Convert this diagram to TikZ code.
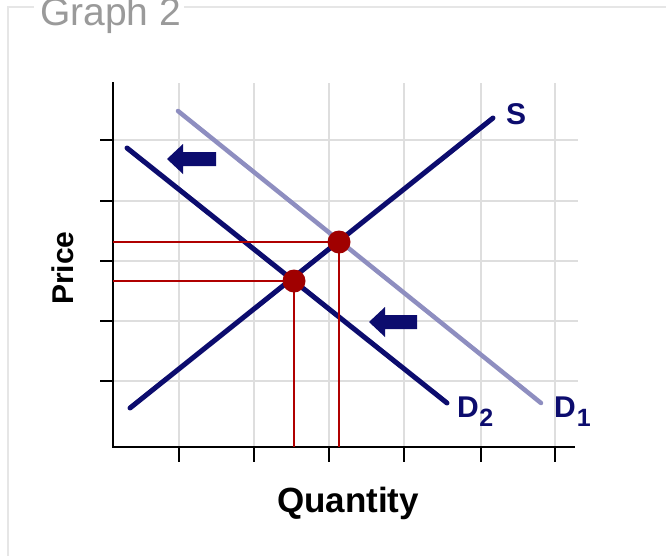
\documentclass[tikz,border=0pt]{standalone}
\usepackage{fontspec}
\setmainfont{Liberation Sans}
\definecolor{navy}{HTML}{0C0C6E}
\definecolor{lightd}{HTML}{8E8EC0}
\definecolor{eqred}{HTML}{B00000}
\definecolor{dotred}{HTML}{A00000}
\definecolor{gridc}{HTML}{DEDEDE}
\definecolor{framec}{HTML}{E6E6E6}
\definecolor{titlec}{HTML}{9A9A9A}
\tikzset{
  gridline/.style={gridc, line width=1.3pt},
  axisline/.style={black, line width=2.4pt},
  tickline/.style={black, line width=2pt},
  curve/.style={navy, line width=5pt, line cap=round},
  curvelight/.style={lightd, line width=4.5pt, line cap=round},
  guide/.style={eqred, line width=1.8pt},
  eqdot/.style={circle, fill=dotred, inner sep=0pt, minimum size=23pt},
  shiftarrow/.style={fill=navy},
  lbl/.style={inner sep=0pt, font=\fontsize{30}{30}\selectfont\bfseries, text=navy},
}
\begin{document}
\begin{tikzpicture}[x=1pt, y=-1pt]
\useasboundingbox (0,0) rectangle (666,555);
\clip (0,0) rectangle (666,555);
\fill[white] (0,0) rectangle (666,555);
% frame
\draw[framec, line width=1.6pt] (8,560) -- (8,7) -- (34,7);
\draw[framec, line width=1.6pt] (184,7) -- (670,7);
\node[anchor=base west, inner sep=0pt, text=titlec, font=\fontsize{39}{39}\selectfont] (title) at (40,25) {Graph 2};
% grid
\foreach \y in {140,201,261,321,381} \draw[gridline] (113,\y) -- (578,\y);
\foreach \x in {179,254,329,404,481,555} \draw[gridline] (\x,83) -- (\x,447);
% axes
\coordinate (origin) at (113,447);
\coordinate (ytop) at (113,82);
\coordinate (xend) at (575,447);
\draw[axisline] (ytop) -- (origin) -- (xend);
\foreach \y in {140,201,261,321,381} \draw[tickline] (100,\y) -- (113,\y);
\foreach \x in {179,254,329,404,481,555} \draw[tickline] (\x,447) -- (\x,462);
% curves
\coordinate (d1a) at (178,111);
\coordinate (d1b) at (541,403);
\coordinate (d2a) at (127,148);
\coordinate (d2b) at (447,403);
\coordinate (sa) at (130,408);
\coordinate (sb) at (493,118);
\draw[curvelight] (d1a) -- (d1b);
\draw[curve] (d2a) -- (d2b);
\draw[curve] (sa) -- (sb);
% equilibrium guides
\coordinate (e1y) at (113,242);
\coordinate (e1x) at (339,447);
\coordinate (e2y) at (113,281);
\coordinate (e2x) at (294,447);
\draw[guide] (e1y) -- (339,242) -- (e1x);
\draw[guide] (e2y) -- (294,281) -- (e2x);
\node[eqdot] (e1) at (339,242) {};
\node[eqdot] (e2) at (294,281) {};
% shift arrows
\fill[shiftarrow] (167,159) -- (183,144) -- (183,152) -- (216,152) -- (216,166) -- (183,166) -- (183,174) -- cycle;
\fill[shiftarrow] (369,322) -- (385,307) -- (385,315) -- (417,315) -- (417,329) -- (385,329) -- (385,337) -- cycle;
% labels
\node[lbl, anchor=base west] (slab) at (506,124) {S};
\node[lbl, anchor=base west] (d2lab) at (457,417) {D\kern0.5pt\raisebox{-9pt}{\fontsize{25}{25}\selectfont 2}};
\node[lbl, anchor=base west] (d1lab) at (554,417) {D\kern1pt\raisebox{-9pt}{\fontsize{25}{25}\selectfont 1}};
\node[inner sep=0pt, anchor=base, rotate=90, font=\fontsize{30}{30}\selectfont\bfseries] (price) at (73,268) {Price};
\node[inner sep=0pt, anchor=base, font=\fontsize{35}{35}\selectfont\bfseries] (qty) at (348,512) {Quantity};
\end{tikzpicture}
\end{document}
